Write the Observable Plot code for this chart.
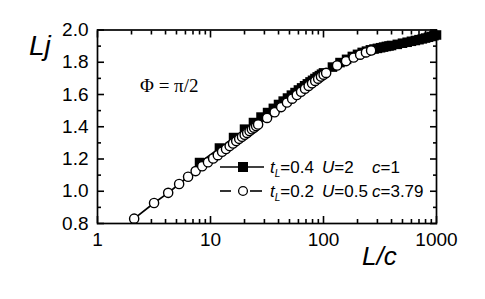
<!DOCTYPE html>
<html><head><meta charset="utf-8">
<script src="https://cdn.jsdelivr.net/npm/d3@7"></script>
<script src="https://cdn.jsdelivr.net/npm/@observablehq/plot@0.6"></script>
<style>
body{margin:0;background:#fff;}
#wrap{position:relative;width:485px;height:299px;font-family:"Liberation Sans",Arial,Helvetica,sans-serif;}
#overlay{position:absolute;left:0;top:0;pointer-events:none;}
</style></head><body><div id="wrap"></div>
<script>
// Series 1: t_L=0.4 U=2 c=1 (filled squares)
const cSq = 1;
const sqL = [8,12,16,20,24,28,32,36,40,44,48,52,56,60,64,68,72,76,80,84,88,92,96,100,
  120,140,160,180,200,220,240,260,280,300,320,340,360,380,400,
  450,500,550,600,650,700,750,800,850,900,950,1000];
const sqLj = [1.178,1.268,1.333,1.385,1.426,1.460,1.488,1.514,1.538,1.559,1.578,1.596,1.612,1.628,1.641,1.654,1.666,1.678,1.688,1.699,1.709,1.717,1.726,1.734,
  1.770,1.798,1.818,1.836,1.849,1.861,1.869,1.877,1.882,1.886,1.890,1.894,1.898,1.901,1.904,
  1.911,1.918,1.924,1.930,1.935,1.940,1.945,1.950,1.955,1.960,1.965,1.969];
// Series 2: t_L=0.2 U=0.5 c=3.79 (open circles)
const cCi = 3.79;
const ciL = [8,12,16,20,24,28,32,36,40,44,48,52,56,60,64,68,72,76,80,84,88,92,96,100,
  120,140,160,180,200,220,240,260,280,300,320,340,360,380,400,
  500,600,700,800,900,1000];
const ciLj = [0.830,0.927,0.990,1.045,1.090,1.125,1.155,1.180,1.203,1.224,1.245,1.262,1.280,1.296,1.311,1.325,1.338,1.350,1.362,1.373,1.384,1.394,1.404,1.414,
  1.455,1.490,1.522,1.550,1.574,1.597,1.617,1.636,1.653,1.669,1.684,1.698,1.711,1.723,1.734,
  1.780,1.807,1.829,1.847,1.861,1.873];
// Ticks
const xMajor = [1,10,100,1000];
const xMinor = [2,3,4,5,6,7,8,9,20,30,40,50,60,70,80,90,200,300,400,500,600,700,800,900];
const yMajor = [0.8,1.0,1.2,1.4,1.6,1.8,2.0];
const yMinor = [0.9,1.1,1.3,1.5,1.7,1.9];

const squares = sqL.map((L,i)=>({x:L/cSq, y:sqLj[i]}));
const circles = ciL.map((L,i)=>({x:L/cCi, y:ciLj[i]}));

const font = '"Liberation Sans",Arial,Helvetica,sans-serif';
const chart = Plot.plot({
  width:485, height:299, marginLeft:97, marginRight:49, marginTop:29.5, marginBottom:76,
  style:{fontFamily:font, fontSize:"19px", color:"#000", background:"transparent"},
  x:{type:"log", domain:[1,1000]},
  y:{domain:[0.8,2.0]},
  marks:[
    Plot.axisX(xMajor, {anchor:"bottom", tickSize:0, tickPadding:9, tickFormat:d=>String(d), label:null, fontSize:19}),
    Plot.axisY(yMajor, {anchor:"left", tickSize:0, tickPadding:9, tickFormat:d=>d.toFixed(1), label:null, fontSize:19}),
    Plot.axisX(xMajor, {anchor:"bottom", tickSize:7, dy:-7, fill:"none", label:null, strokeWidth:1.6}),
    Plot.axisX(xMinor, {anchor:"bottom", tickSize:4, dy:-4, fill:"none", label:null, strokeWidth:1.6}),
    Plot.axisX(xMajor, {anchor:"top", tickSize:7, dy:7, fill:"none", label:null, strokeWidth:1.6}),
    Plot.axisX(xMinor, {anchor:"top", tickSize:4, dy:4, fill:"none", label:null, strokeWidth:1.6}),
    Plot.axisY(yMajor, {anchor:"left", tickSize:7, dx:7, fill:"none", label:null, strokeWidth:1.6}),
    Plot.axisY(yMinor, {anchor:"left", tickSize:4, dx:4, fill:"none", label:null, strokeWidth:1.6}),
    Plot.axisY(yMajor, {anchor:"right", tickSize:7, dx:-7, fill:"none", label:null, strokeWidth:1.6}),
    Plot.axisY(yMinor, {anchor:"right", tickSize:4, dx:-4, fill:"none", label:null, strokeWidth:1.6}),
    Plot.line(squares, {x:"x", y:"y", stroke:"black", strokeWidth:1.6}),
    Plot.dot(squares, {x:"x", y:"y", symbol:"square", r:5.4, fill:"black", stroke:"none"}),
    Plot.line(circles, {x:"x", y:"y", stroke:"black", strokeWidth:1.7}),
    Plot.dot(circles, {x:"x", y:"y", r:4.6, fill:"white", stroke:"black", strokeWidth:1.4}),
    Plot.frame({stroke:"black", strokeWidth:1.7})
  ]
});
const wrap = document.getElementById("wrap");
wrap.appendChild(chart);

// Overlay: axis titles, annotation, legend
const ns = "http://www.w3.org/2000/svg";
const ov = document.createElementNS(ns, "svg");
ov.setAttribute("id","overlay"); ov.setAttribute("width",485); ov.setAttribute("height",299);
ov.innerHTML = `
  <text x="29" y="55" font-family='${font}' font-style="italic" font-size="28">Lj</text>
  <text x="362" y="265" font-family='${font}' font-style="italic" font-size="26">L/c</text>
  <text x="140" y="92" font-family='"Liberation Serif","Times New Roman",serif' font-size="19">Φ = π/2</text>
  <g stroke="black" stroke-width="1.6">
    <line x1="220" y1="167" x2="264" y2="167"/>
    <line x1="220" y1="191" x2="231" y2="191"/>
    <line x1="250" y1="191" x2="262" y2="191"/>
  </g>
  <rect x="238" y="162" width="10" height="10" fill="black"/>
  <circle cx="243" cy="191" r="4.4" fill="white" stroke="black" stroke-width="1.3"/>
  <g font-family='${font}' font-size="17">
    <text x="270" y="173"><tspan font-style="italic">t</tspan><tspan font-size="10" font-style="italic" dy="4">L</tspan><tspan dy="-4">=0.4</tspan></text>
    <text x="322" y="173"><tspan font-style="italic">U</tspan>=2</text>
    <text x="372" y="173"><tspan font-style="italic">c</tspan>=1</text>
    <text x="270" y="197"><tspan font-style="italic">t</tspan><tspan font-size="10" font-style="italic" dy="4">L</tspan><tspan dy="-4">=0.2</tspan></text>
    <text x="322" y="197"><tspan font-style="italic">U</tspan>=0.5</text>
    <text x="372" y="197"><tspan font-style="italic">c</tspan>=3.79</text>
  </g>`;
wrap.appendChild(ov);
</script></body></html>
